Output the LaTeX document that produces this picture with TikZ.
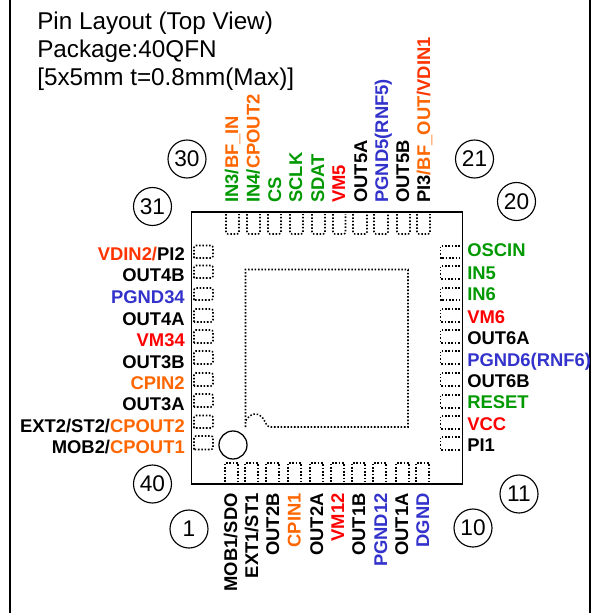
\documentclass[tikz,border=0pt]{standalone}
\usepackage{fontspec}
\setmainfont{Liberation Sans}
\definecolor{pgreen}{RGB}{0,153,0}
\definecolor{porange}{RGB}{255,102,0}
\definecolor{pvermil}{RGB}{255,51,0}
\definecolor{pblue}{RGB}{51,51,204}
\definecolor{pred}{RGB}{255,0,0}
\newcommand{\Gr}[1]{\textcolor{pgreen}{#1}}
\newcommand{\Or}[1]{\textcolor{porange}{#1}}
\newcommand{\Ve}[1]{\textcolor{pvermil}{#1}}
\newcommand{\Bl}[1]{\textcolor{pblue}{#1}}
\newcommand{\Rd}[1]{\textcolor{pred}{#1}}
\tikzset{
  frameline/.style={line width=1.2pt,black},
  pkgbox/.style={line width=1.1pt,black},
  padbox/.style={line width=1.15pt,black,dash pattern=on 1.15pt off 1.35pt},
  numc/.style={draw,circle,line width=0.85pt,minimum size=28.5pt,inner sep=0pt,font=\fontsize{17}{18}\selectfont},
  titletext/.style={anchor=base west,inner sep=0pt,font=\fontsize{18.2}{20}\selectfont},
  pinl/.style={anchor=base east,inner sep=0pt,font=\fontsize{13.8}{15}\selectfont\bfseries},
  pinr/.style={anchor=base west,inner sep=0pt,font=\fontsize{13.8}{15}\selectfont\bfseries},
  pint/.style={rotate=90,anchor=base west,inner sep=0pt,font=\fontsize{13.8}{15}\selectfont\bfseries},
  pinb/.style={rotate=90,anchor=base east,inner sep=0pt,font=\fontsize{13.8}{15}\selectfont\bfseries},
}
\begin{document}
\begin{tikzpicture}[x=0.75pt,y=-0.75pt]
\useasboundingbox (0,0) rectangle (600,613);
% frame
\draw[frameline] (10,0) -- (10,613);
\draw[frameline] (590,0) -- (590,613);
% title
\node[titletext] (t1) at (37,29.5) {Pin Layout (Top View)};
\node[titletext] (t2) at (37,57.5) {Package:40QFN};
\node[titletext] (t3) at (37,86) {[5x5mm t=0.8mm(Max)]};
% package
\draw[pkgbox] (191.5,212) rectangle (462.5,484);
% top pads
\foreach \a/\b in {226/239,247/260,268/281,290/303,312/325,333/345.5,353/367,374/388,397/410,417/430}
  \draw[padbox,rounded corners=1.5pt] (\a,214) -- (\a,234) -- (\b,234) -- (\b,214);
% bottom pads
\foreach \a/\b in {225/238,245/258,266/279,288/301,310/323,331/344,352/365,373/386,396/409,416/429}
  \draw[padbox] (\a,482) -- (\a,463) -- (\b,463) -- (\b,482);
% left pads
\foreach \a/\b in {245.5/258,265.5/278,288/300,309/322,330/343,351/364,373/386,394/407,415.5/428,436/449.5}
  \draw[padbox,rounded corners=1.5pt] (194,\b) -- (194,\a) -- (213,\a) -- (213,\b) -- (194,\b);
% right pads
\foreach \a/\b in {246/258,266/279,288/300,309/322,330/343,351/364,373/386,395/408,416/429,437/450}
  \draw[padbox] (460,\a) -- (440.5,\a) -- (440.5,\b) -- (460,\b);
% exposed pad
\draw[padbox] (245.5,427) -- (245.5,269.5) -- (408,269.5) -- (408,427) -- (270,427)
  .. controls (266,427) and (265,420) .. (262,417)
  .. controls (258,412) and (250,413) .. (245.5,421);
% pin-1 mark
\node[draw,circle,line width=0.95pt,minimum size=21pt,inner sep=0pt] (mark) at (233,445) {};
% pin numbers
\node[numc] (n30) at (187,159) {30};
\node[numc] (n31) at (152.5,206.5) {31};
\node[numc] (n21) at (474.5,159) {21};
\node[numc] (n20) at (516.5,201.5) {20};
\node[numc] (n40) at (152.5,484) {40};
\node[numc] (n1) at (189,529) {1};
\node[numc] (n10) at (473,528) {10};
\node[numc] (n11) at (519,494) {11};
% top labels
\node[pint] (p30) at (238,203) {\Gr{IN3/}\Or{BF\_IN}};
\node[pint] (p29) at (259.5,203) {\Gr{IN4/}\Or{CPOUT2}};
\node[pint] (p28) at (281,203) {\Gr{CS}};
\node[pint] (p27) at (302,203) {\Gr{SCLK}};
\node[pint] (p26) at (324,203) {\Gr{SDAT}};
\node[pint] (p25) at (345,203) {\Rd{VM5}};
\node[pint] (p24) at (367,203) {OUT5A};
\node[pint] (p23) at (388,203) {\Bl{PGND5(RNF5)}};
\node[pint] (p22) at (409,203) {OUT5B};
\node[pint] (p21) at (430,203) {PI3\Or{/BF\_OUT}\Ve{/VDIN1}};
% bottom labels
\node[pinb] (p1) at (237,493) {MOB1/SDO};
\node[pinb] (p2) at (258,493) {EXT1/ST1};
\node[pinb] (p3) at (279,493) {OUT2B};
\node[pinb] (p4) at (300.5,493) {\Or{CPIN1}};
\node[pinb] (p5) at (323,493) {OUT2A};
\node[pinb] (p6) at (344,493) {\Rd{VM12}};
\node[pinb] (p7) at (365,493) {OUT1B};
\node[pinb] (p8) at (387,493) {\Bl{PGND12}};
\node[pinb] (p9) at (408,493) {OUT1A};
\node[pinb] (p10) at (429,493) {\Bl{DGND}};
% left labels
\node[pinl] (p31) at (185,260.7) {\Ve{VDIN2/}PI2};
\node[pinl] (p32) at (185,281.7) {OUT4B};
\node[pinl] (p33) at (185,303) {\Bl{PGND34}};
\node[pinl] (p34) at (185,325) {OUT4A};
\node[pinl] (p35) at (185,346) {\Rd{VM34}};
\node[pinl] (p36) at (185,368) {OUT3B};
\node[pinl] (p37) at (185,389) {\Or{CPIN2}};
\node[pinl] (p38) at (185,410) {OUT3A};
\node[pinl] (p39) at (185,432) {EXT2/ST2/\Or{CPOUT2}};
\node[pinl] (p40) at (185,453) {MOB2/\Or{CPOUT1}};
% right labels
\node[pinr] (p20) at (467,256.7) {\Gr{OSCIN}};
\node[pinr] (p19) at (467,279) {\Gr{IN5}};
\node[pinr] (p18) at (467,300) {\Gr{IN6}};
\node[pinr] (p17) at (467,323) {\Rd{VM6}};
\node[pinr] (p16) at (467,344) {OUT6A};
\node[pinr] (p15) at (467,366) {\Bl{PGND6(RNF6)}};
\node[pinr] (p14) at (467,387) {OUT6B};
\node[pinr] (p13) at (467,408) {\Gr{RESET}};
\node[pinr] (p12) at (467,430) {\Rd{VCC}};
\node[pinr] (p11) at (467,451) {PI1};
\end{tikzpicture}
\end{document}
